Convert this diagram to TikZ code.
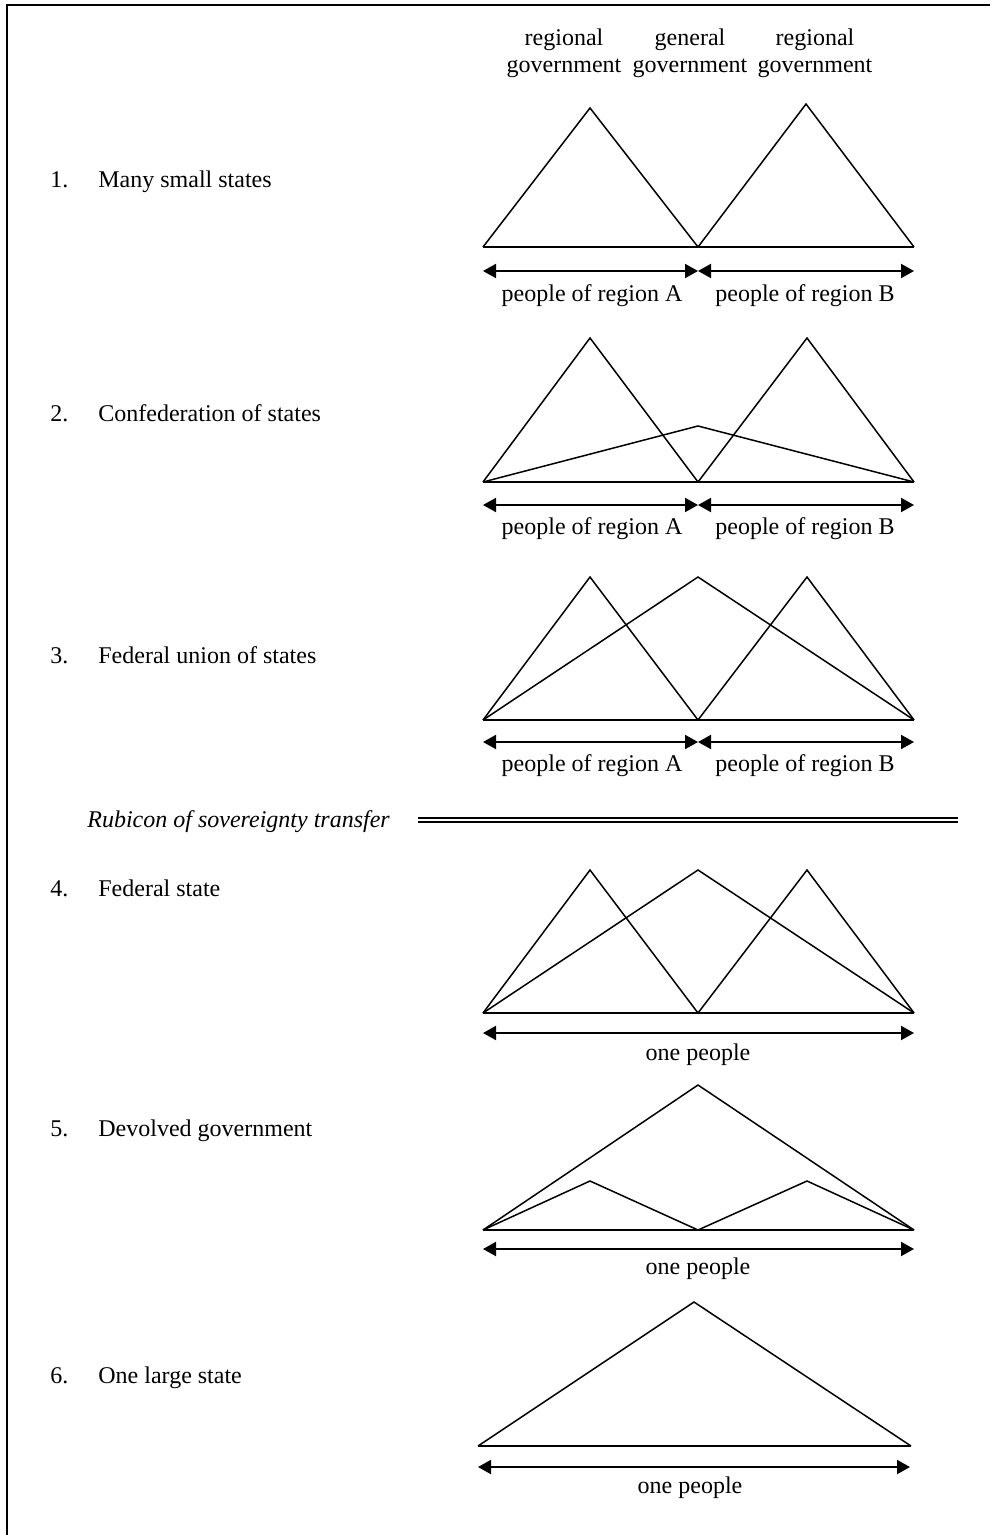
\documentclass[tikz,border=0pt]{standalone}
\usepackage{fontspec}
\setmainfont{Liberation Serif}
\usetikzlibrary{arrows.meta}
\begin{document}
\begin{tikzpicture}[x=0.5pt,y=-0.5pt,
  every node/.style={font=\fontsize{12}{13.5}\selectfont, inner sep=0pt},
  tri/.style={line width=0.75pt, line join=miter},
  baseline/.style={line width=1pt},
  dimarrow/.style={line width=1pt, {Triangle[length=6.5pt,width=7pt]}-{Triangle[length=6.5pt,width=7pt]}},
  rowlabel/.style={anchor=base west},
  dbl/.style={double, line width=0.9pt, double distance=1.4pt},
  frame/.style={line width=1pt}
]
\useasboundingbox (0,0) rectangle (990,1535);
\draw[frame] (990,5) -- (7,5) -- (7,1535);

% header labels
\node[align=center] (hA) at (564,53) {regional\\government};
\node[align=center] (hG) at (690,53) {general\\government};
\node[align=center] (hB) at (815,53) {regional\\government};

% row labels
\node[rowlabel] (n1) at (50,188) {1.};  \node[rowlabel] (t1) at (98,188) {Many small states};
\node[rowlabel] (n2) at (50,421) {2.};  \node[rowlabel] (t2) at (98,421) {Confederation of states};
\node[rowlabel] (n3) at (50,663) {3.};  \node[rowlabel] (t3) at (98,663) {Federal union of states};
\node[rowlabel] (n4) at (50,896) {4.};  \node[rowlabel] (t4) at (98,896) {Federal state};
\node[rowlabel] (n5) at (50,1136) {5.}; \node[rowlabel] (t5) at (98,1136) {Devolved government};
\node[rowlabel] (n6) at (50,1383) {6.}; \node[rowlabel] (t6) at (98,1383) {One large state};

% ---------- row 1
\coordinate (r1L) at (483,247); \coordinate (r1M) at (698,247); \coordinate (r1R) at (914,247);
\coordinate (r1a) at (590,108); \coordinate (r1b) at (806,104);
\draw[tri] (r1L) -- (r1a) -- (r1M) -- (r1b) -- (r1R);
\draw[baseline] (r1L) -- (r1R);
\coordinate (p1L) at (483,271); \coordinate (p1M) at (698,271); \coordinate (p1R) at (914,271);
\draw[dimarrow] (p1L) -- (p1M);
\draw[dimarrow] (p1M) -- (p1R);
\node (l1A) at (592,296) {people of region A};
\node (l1B) at (805,296) {people of region B};

% ---------- row 2
\coordinate (r2L) at (483,482); \coordinate (r2M) at (698,482); \coordinate (r2R) at (914,482);
\coordinate (r2a) at (590,338); \coordinate (r2b) at (807,338); \coordinate (r2g) at (698,426);
\draw[tri] (r2L) -- (r2a) -- (r2M) -- (r2b) -- (r2R);
\draw[tri] (r2L) -- (r2g) -- (r2R);
\draw[baseline] (r2L) -- (r2R);
\coordinate (p2L) at (483,505); \coordinate (p2M) at (698,505); \coordinate (p2R) at (914,505);
\draw[dimarrow] (p2L) -- (p2M);
\draw[dimarrow] (p2M) -- (p2R);
\node (l2A) at (592,529) {people of region A};
\node (l2B) at (805,529) {people of region B};

% ---------- row 3
\coordinate (r3L) at (483,720); \coordinate (r3M) at (698,720); \coordinate (r3R) at (914,720);
\coordinate (r3a) at (590,577); \coordinate (r3b) at (807,577); \coordinate (r3g) at (698,577);
\draw[tri] (r3L) -- (r3a) -- (r3M) -- (r3b) -- (r3R);
\draw[tri] (r3L) -- (r3g) -- (r3R);
\draw[baseline] (r3L) -- (r3R);
\coordinate (p3L) at (483,742); \coordinate (p3M) at (698,742); \coordinate (p3R) at (914,742);
\draw[dimarrow] (p3L) -- (p3M);
\draw[dimarrow] (p3M) -- (p3R);
\node (l3A) at (592,766) {people of region A};
\node (l3B) at (805,766) {people of region B};

% ---------- Rubicon
\node[anchor=west, font=\fontsize{12}{13.5}\selectfont\itshape] (rub) at (87,822) {Rubicon of sovereignty transfer};
\coordinate (rubS) at (418,820); \coordinate (rubE) at (958,820);
\draw[dbl] (rubS) -- (rubE);

% ---------- row 4
\coordinate (r4L) at (483,1013); \coordinate (r4M) at (698,1013); \coordinate (r4R) at (914,1013);
\coordinate (r4a) at (590,870); \coordinate (r4b) at (807,870); \coordinate (r4g) at (698,870);
\draw[tri] (r4L) -- (r4a) -- (r4M) -- (r4b) -- (r4R);
\draw[tri] (r4L) -- (r4g) -- (r4R);
\draw[baseline] (r4L) -- (r4R);
\coordinate (p4L) at (483,1033); \coordinate (p4R) at (914,1033);
\draw[dimarrow] (p4L) -- (p4R);
\node (l4) at (698,1055) {one people};

% ---------- row 5
\coordinate (r5L) at (483,1230); \coordinate (r5M) at (698,1230); \coordinate (r5R) at (914,1230);
\coordinate (r5a) at (590,1181); \coordinate (r5b) at (807,1181); \coordinate (r5g) at (698,1085);
\draw[tri] (r5L) -- (r5a) -- (r5M) -- (r5b) -- (r5R);
\draw[tri] (r5L) -- (r5g) -- (r5R);
\draw[baseline] (r5L) -- (r5R);
\coordinate (p5L) at (483,1249); \coordinate (p5R) at (914,1249);
\draw[dimarrow] (p5L) -- (p5R);
\node (l5) at (698,1269) {one people};

% ---------- row 6
\coordinate (r6L) at (478,1446); \coordinate (r6R) at (911,1446); \coordinate (r6g) at (694,1302);
\draw[tri] (r6L) -- (r6g) -- (r6R);
\draw[baseline] (r6L) -- (r6R);
\coordinate (p6L) at (478,1467); \coordinate (p6R) at (910,1467);
\draw[dimarrow] (p6L) -- (p6R);
\node (l6) at (690,1488) {one people};
\end{tikzpicture}
\end{document}
